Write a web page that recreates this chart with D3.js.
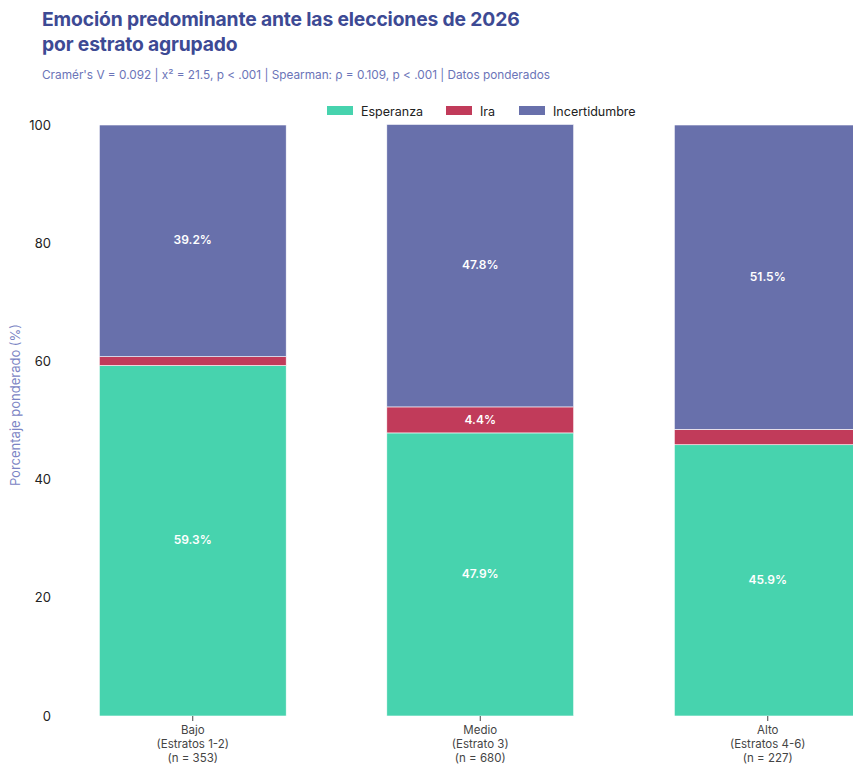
<!DOCTYPE html>
<html><head><meta charset="utf-8">
<script src="https://cdn.jsdelivr.net/npm/d3@7"></script>
<style>
body{margin:0;background:#fff;}
svg{display:block;font-family:Inter,"Noto Sans",sans-serif;}
</style></head>
<body><svg id="c" width="853" height="765"></svg>
<script>
const categories = ["Bajo", "Medio", "Alto"];
const categoryLines = [["Bajo","(Estratos 1-2)","(n = 353)"],["Medio","(Estrato 3)","(n = 680)"],["Alto","(Estratos 4-6)","(n = 227)"]];
const seriesNames = ["Esperanza", "Ira", "Incertidumbre"];
const esperanza = [59.3, 47.9, 45.9];
const ira = [1.5, 4.4, 2.6];
const incertidumbre = [39.2, 47.8, 51.5];
const yTicks = [0, 20, 40, 60, 80, 100];
const colors = ["#47d3ae", "#c13b5a", "#6870ab"];

(function(){
const svg = d3.select("#c");
const plotTop = 125, plotBottom = 716;

const x = d3.scaleBand().domain(categories).range([49, 911.5]).paddingInner(0.35).paddingOuter(0.175);
const y = d3.scaleLinear().domain([0, 100]).range([plotBottom, plotTop]);

// title
svg.append("text").attr("x", 42).attr("y", 26).attr("fill", "#3d4a94")
  .attr("font-size", 19.3).attr("font-weight", 700).attr("letter-spacing", -0.15).text("Emoción predominante ante las elecciones de 2026");
svg.append("text").attr("x", 42).attr("y", 51).attr("fill", "#3d4a94")
  .attr("font-size", 19.3).attr("font-weight", 700).attr("letter-spacing", -0.15).text("por estrato agrupado");
svg.append("text").attr("x", 42).attr("y", 79).attr("fill", "#6b74b8")
  .attr("font-size", 11.8).text("Cramér's V = 0.092 | x² = 21.5, p < .001 | Spearman: ρ = 0.109, p < .001 | Datos ponderados");

// data stacking
const rows = categories.map((c, i) => ({cat: c, Esperanza: esperanza[i], Ira: ira[i], Incertidumbre: incertidumbre[i]}));
const stack = d3.stack().keys(seriesNames)(rows);

const g = svg.append("g");

stack.forEach((s, si) => {
  g.selectAll(null).data(s).enter().append("rect")
    .attr("x", d => x(d.data.cat))
    .attr("width", x.bandwidth())
    .attr("y", d => y(d[1]))
    .attr("height", d => y(d[0]) - y(d[1]))
    .attr("fill", colors[si])
    .attr("stroke", "#fff").attr("stroke-width", 0.6);
  g.selectAll(null).data(s.filter(d => (d[1] - d[0]) >= 3)).enter().append("text")
    .attr("x", d => x(d.data.cat) + x.bandwidth() / 2)
    .attr("y", d => (y(d[0]) + y(d[1])) / 2)
    .attr("dy", "0.3em")
    .attr("text-anchor", "middle")
    .attr("fill", "#fff").attr("font-size", 12).attr("font-weight", 600)
    .text(d => (d[1] - d[0]).toFixed(1) + "%");
});

// y axis
const ya = svg.append("g").attr("transform", `translate(51,0)`)
  .call(d3.axisLeft(y).tickValues(yTicks).tickSize(0).tickPadding(0));
ya.select(".domain").remove();
ya.selectAll("text").attr("font-size", 13).attr("fill", "#222").attr("font-family", "Inter,'Noto Sans',sans-serif");

svg.append("text").attr("transform", "translate(20,405) rotate(-90)")
  .attr("text-anchor", "middle").attr("fill", "#7b84c4").attr("font-size", 13)
  .text("Porcentaje ponderado (%)");

// x axis
const xa = svg.append("g").attr("transform", `translate(0,${plotBottom})`)
  .call(d3.axisBottom(x).tickSize(5).tickFormat(""));
xa.select(".domain").remove();
xa.selectAll("line").attr("stroke", "#444");
categories.forEach((c, i) => {
  const t = svg.append("text").attr("text-anchor", "middle").attr("fill", "#444")
    .attr("font-size", 11.5).attr("x", x(c) + x.bandwidth() / 2);
  categoryLines[i].forEach((ln, k) => {
    t.append("tspan").attr("x", x(c) + x.bandwidth() / 2).attr("y", 734 + k * 14).text(ln);
  });
});

// legend
const legX = [327, 446, 519];
seriesNames.forEach((n, i) => {
  svg.append("rect").attr("x", legX[i]).attr("y", 106).attr("width", 26).attr("height", 9).attr("fill", colors[i]);
  svg.append("text").attr("x", legX[i] + 34).attr("y", 115.5).attr("fill", "#222").attr("font-size", 12.5).text(n);
});
})();
</script></body></html>
